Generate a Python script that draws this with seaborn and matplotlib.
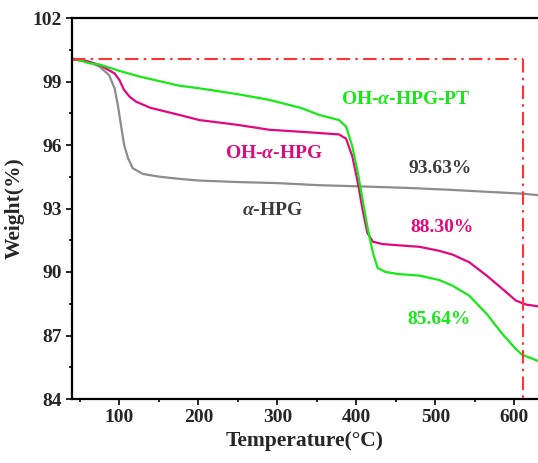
import numpy as np
import pandas as pd
import matplotlib
matplotlib.use("Agg")
import matplotlib.pyplot as plt
import seaborn as sns
from matplotlib.ticker import MultipleLocator

# ---- data ----
temp_hpg = [40, 60, 75, 87, 94, 98, 102, 106, 111, 117, 130, 151, 176, 201, 250, 300, 353, 400, 467, 520, 570, 611, 630]
wt_hpg = [100.05, 99.95, 99.7, 99.3, 98.67, 97.89, 96.94, 96.0, 95.37, 94.9, 94.63, 94.5, 94.4, 94.32, 94.25, 94.2, 94.1, 94.05, 93.97, 93.88, 93.78, 93.7, 93.63]

temp_oh = [40, 60, 75, 94, 100, 106, 113, 121, 139, 176, 201, 250, 290, 340, 378, 387, 395, 402, 408, 414, 421, 433, 454, 480, 505, 522, 543, 565, 585, 602, 615, 630]
wt_oh = [100.05, 99.95, 99.78, 99.38, 99.07, 98.6, 98.28, 98.05, 97.76, 97.42, 97.18, 96.95, 96.72, 96.6, 96.5, 96.3, 95.45, 94.2, 92.93, 91.84, 91.43, 91.32, 91.26, 91.19, 91.0, 90.82, 90.46, 89.83, 89.2, 88.65, 88.46, 88.38]

temp_pt = [40, 62, 75, 100, 126, 176, 201, 250, 290, 330, 353, 378, 387, 395, 402, 408, 414, 421, 427, 437, 454, 480, 505, 522, 543, 565, 585, 602, 610, 630]
wt_pt = [100.1, 99.86, 99.8, 99.5, 99.23, 98.8, 98.68, 98.4, 98.13, 97.75, 97.42, 97.18, 96.87, 95.92, 94.67, 93.4, 92.14, 90.9, 90.19, 90.0, 89.9, 89.83, 89.62, 89.35, 88.88, 88.02, 87.07, 86.36, 86.09, 85.8]

series_names = ["α-HPG", "OH-α-HPG", "OH-α-HPG-PT"]
series_colors = ["#8C8C8C", "#E3077E", "#16EA16"]

ref_level = 100.05
ref_temp = 611

labels = [
    (r"OH-$\alpha$-HPG-PT", 463, 98.13, "#16EA16"),
    (r"OH-$\alpha$-HPG", 296, 95.6, "#E3077E"),
    ("93.63%", 506, 94.9, "#3C3C3C"),
    (r"$\alpha$-HPG", 294, 92.9, "#3C3C3C"),
    ("88.30%", 509, 92.08, "#E3077E"),
    ("85.64%", 505, 87.74, "#16EA16"),
]

# ---- build dataframe ----
frames = []
for name, t, w in zip(series_names, [temp_hpg, temp_oh, temp_pt], [wt_hpg, wt_oh, wt_pt]):
    frames.append(pd.DataFrame({"Temperature": t, "Weight": w, "Sample": name}))
df = pd.concat(frames, ignore_index=True)

sns.set_theme(style="ticks")
plt.rcParams["font.family"] = ["Liberation Serif", "DejaVu Serif"]
plt.rcParams["font.weight"] = "bold"
plt.rcParams["mathtext.fontset"] = "custom"
plt.rcParams["mathtext.it"] = "Liberation Serif:italic:bold"
plt.rcParams["mathtext.rm"] = "Liberation Serif:bold"
plt.rcParams["mathtext.bf"] = "Liberation Serif:bold"

fig = plt.figure(figsize=(5.38, 4.63), dpi=100)
ax = fig.add_axes([72 / 538, 64 / 463, 1 - 72 / 538, (399 - 18) / 463])

sns.lineplot(data=df, x="Temperature", y="Weight", hue="Sample",
             palette=dict(zip(series_names, series_colors)),
             sort=False, estimator=None, legend=False, linewidth=1.6, ax=ax)
for ln in ax.lines:
    ln.set_solid_joinstyle("round")

# reference dash-dot lines
ax.plot([40, ref_temp], [ref_level, ref_level], color="#FF3333", lw=1.5,
        dashes=(6.5, 2.5, 1.2, 2.5))
ax.plot([ref_temp, ref_temp], [ref_level, 84], color="#FF3333", lw=1.5,
        dashes=(6.5, 2.5, 1.2, 2.5))

for txt, x, y, c in labels:
    ax.text(x, y, txt, color=c, fontsize=14, fontweight="bold",
            ha="center", va="center")

ax.set_xlim(40, 630)
ax.set_ylim(84, 102)
ax.xaxis.set_major_locator(MultipleLocator(100))
ax.xaxis.set_minor_locator(MultipleLocator(50))
ax.yaxis.set_major_locator(MultipleLocator(3))
ax.yaxis.set_minor_locator(MultipleLocator(1.5))

ax.set_xlabel("Temperature(°C)", fontsize=15.5, fontweight="bold", labelpad=4)
ax.set_ylabel("Weight(%)", fontsize=15.5, fontweight="bold", labelpad=6)

ax.tick_params(axis="both", which="major", direction="out", length=4, width=1.4,
               labelsize=14, pad=3, top=False, right=False)
ax.tick_params(axis="both", which="minor", direction="out", length=2.5, width=1.4,
               top=False, right=False)
for lab in ax.get_xticklabels() + ax.get_yticklabels():
    lab.set_fontweight("bold")

for s in ["left", "bottom", "top"]:
    ax.spines[s].set_linewidth(1.6)
    ax.spines[s].set_color("black")
ax.spines["right"].set_visible(False)

fig.savefig("out.png", dpi=100)
